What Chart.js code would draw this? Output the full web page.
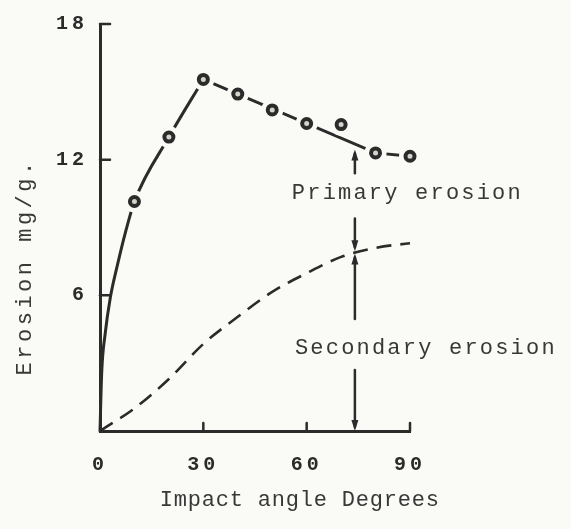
<!DOCTYPE html>
<html>
<head>
<meta charset="utf-8">
<script src="https://cdn.jsdelivr.net/npm/chart.js@4.4.1/dist/chart.umd.min.js"></script>
<style>
  html, body { margin: 0; padding: 0; background: #fafaf6; }
  #wrap { width: 571px; height: 529px; }
</style>
</head>
<body>
<div id="wrap"><canvas id="erosionChart" width="571" height="529"></canvas></div>
<script>
// Tick values of both axes
const xTicks = [0, 30, 60, 90];
const yTicks = [0, 6, 12, 18];

// Measured points (circles)
const measuredAngles = [10, 20, 30, 40, 50, 60, 70, 80, 90];
const measuredErosion = [10.15, 13.0, 15.55, 14.9, 14.2, 13.6, 13.55, 12.3, 12.15];

// Primary curve: steep rise up to the peak
const riseAngles = [0, 0.5, 1.5, 3, 5, 7.5, 10, 20, 30];
const riseErosion = [0, 2.6, 4.3, 5.9, 7.3, 8.85, 10.15, 13.0, 15.55];

// Primary curve after the peak
const fallAngles = [30, 80, 90];
const fallErosion = [15.55, 12.3, 12.15];

// Secondary erosion (dashed)
const secondaryAngles = [0, 10, 20, 30, 40, 50, 60, 70, 80, 90, 94];
const secondaryErosion = [0, 1.0, 2.3, 3.85, 5.05, 6.15, 6.98, 7.7, 8.1, 8.3, 8.35];

// Annotation arrows (angle, erosion values)
const arrowAngle = 74;
const primaryArrow = { top: 12.45, textTop: 11.4, textBottom: 9.4, bottom: 7.95 };
const secondaryArrow = { top: 7.85, textTop: 4.95, textBottom: 2.7, bottom: 0 };
const primaryLabel = { text: "Primary erosion", angle: 55.7, value: 10.5 };
const secondaryLabel = { text: "Secondary erosion", angle: 56.6, value: 3.65 };

const paper = "#fafaf6";
const ink = "#2b2b2b";
const textInk = "#383838";

function toPoints(xs, ys) {
    return xs.map((x, i) => ({ x: x, y: ys[i] }));
}

function line(ctx, x1, y1, x2, y2) {
    ctx.beginPath();
    ctx.moveTo(x1, y1);
    ctx.lineTo(x2, y2);
    ctx.stroke();
}

// Arrow head with tip at (px, py); dir = -1 points up, 1 points down
function arrowHead(ctx, px, py, dir) {
    ctx.beginPath();
    ctx.moveTo(px, py);
    ctx.lineTo(px - 3.5, py - dir * 11);
    ctx.lineTo(px + 3.5, py - dir * 11);
    ctx.closePath();
    ctx.fill();
}

const decorPlugin = {
    id: "decor",
    beforeDraw(chart) {
        const ctx = chart.ctx;
        ctx.save();
        ctx.fillStyle = paper;
        ctx.fillRect(0, 0, chart.width, chart.height);
        ctx.restore();
        // wide spacing for the tick labels
        ctx.letterSpacing = "4px";
    },
    beforeDatasetsDraw(chart) {
        chart.ctx.letterSpacing = "0px";
    },
    afterDraw(chart) {
        const ctx = chart.ctx;
        const xs = chart.scales.x;
        const ys = chart.scales.y;
        ctx.save();
        ctx.strokeStyle = ink;
        ctx.fillStyle = ink;
        ctx.lineWidth = 2.5;
        ctx.lineCap = "round";

        // inward ticks
        yTicks.filter(v => v > 0).forEach(v => {
            const py = ys.getPixelForValue(v);
            line(ctx, xs.left, py, xs.left + 10, py);
        });
        xTicks.filter(v => v > 0).forEach(v => {
            const px = xs.getPixelForValue(v);
            line(ctx, px, ys.bottom, px, ys.bottom - 8);
        });

        // arrows
        const ax = xs.getPixelForValue(arrowAngle);
        [primaryArrow, secondaryArrow].forEach(a => {
            const pTop = ys.getPixelForValue(a.top);
            const pBottom = ys.getPixelForValue(a.bottom);
            line(ctx, ax, pTop + 4, ax, ys.getPixelForValue(a.textTop));
            line(ctx, ax, ys.getPixelForValue(a.textBottom), ax, pBottom - 4);
            arrowHead(ctx, ax, pTop, -1);
            arrowHead(ctx, ax, pBottom, 1);
        });

        // labels
        ctx.fillStyle = textInk;
        ctx.font = "22px 'Liberation Mono'";
        ctx.textBaseline = "middle";
        ctx.textAlign = "left";
        ctx.letterSpacing = "2.2px";
        [primaryLabel, secondaryLabel].forEach(l => {
            ctx.fillText(l.text, xs.getPixelForValue(l.angle), ys.getPixelForValue(l.value));
        });

        // axis titles
        ctx.textAlign = "center";
        ctx.letterSpacing = "0.8px";
        ctx.fillText("Impact angle Degrees", xs.getPixelForValue(58), ys.bottom + 69);

        ctx.translate(25, ys.getPixelForValue(7.26));
        ctx.rotate(-Math.PI / 2);
        ctx.letterSpacing = "3.5px";
        ctx.fillText("Erosion mg/g.", 0, 0);
        ctx.restore();
    }
};

const lineStyle = {
    showLine: true,
    borderColor: ink,
    borderWidth: 3,
    borderCapStyle: "round",
    pointRadius: 0,
    clip: false,
    order: 3
};

new Chart(document.getElementById("erosionChart"), {
    type: "scatter",
    data: {
        datasets: [
            Object.assign({
                label: "Primary rise",
                data: toPoints(riseAngles, riseErosion),
                cubicInterpolationMode: "monotone"
            }, lineStyle),
            Object.assign({
                label: "Primary fall",
                data: toPoints(fallAngles, fallErosion),
                tension: 0
            }, lineStyle),
            Object.assign({}, lineStyle, {
                label: "Secondary erosion",
                data: toPoints(secondaryAngles, secondaryErosion),
                cubicInterpolationMode: "monotone",
                borderWidth: 2.6,
                borderDash: [15, 9],
                borderCapStyle: "butt"
            }),
            {
                label: "gap",
                data: toPoints(measuredAngles, measuredErosion),
                pointRadius: 11,
                pointBackgroundColor: paper,
                pointBorderWidth: 0,
                clip: false,
                order: 2
            },
            {
                label: "Measured",
                data: toPoints(measuredAngles, measuredErosion),
                pointRadius: 4.5,
                pointBackgroundColor: "#d4d4cc",
                pointBorderColor: ink,
                pointBorderWidth: 4,
                clip: false,
                order: 1
            }
        ]
    },
    options: {
        responsive: false,
        animation: false,
        devicePixelRatio: 1,
        layout: { padding: { top: 22, right: 161, bottom: 0, left: 0 } },
        plugins: {
            legend: { display: false },
            tooltip: { enabled: false }
        },
        scales: {
            x: {
                type: "linear",
                min: 0,
                max: 90,
                afterFit: s => { s.height = 98; },
                afterBuildTicks: s => { s.ticks = xTicks.map(v => ({ value: v })); },
                grid: { display: false, drawTicks: false },
                border: { display: true, color: ink, width: 3 },
                ticks: {
                    padding: 22,
                    color: ink,
                    font: { family: "'Liberation Mono'", size: 20, weight: "bold" }
                }
            },
            y: {
                type: "linear",
                min: 0,
                max: 18,
                afterFit: s => { s.width = 100; },
                afterBuildTicks: s => { s.ticks = yTicks.map(v => ({ value: v })); },
                grid: { display: false, drawTicks: false },
                border: { display: true, color: ink, width: 3 },
                ticks: {
                    padding: 12,
                    color: ink,
                    font: { family: "'Liberation Mono'", size: 20, weight: "bold" },
                    callback: v => (v === 0 ? "" : v)
                }
            }
        }
    },
    plugins: [decorPlugin]
});
</script>
</body>
</html>
